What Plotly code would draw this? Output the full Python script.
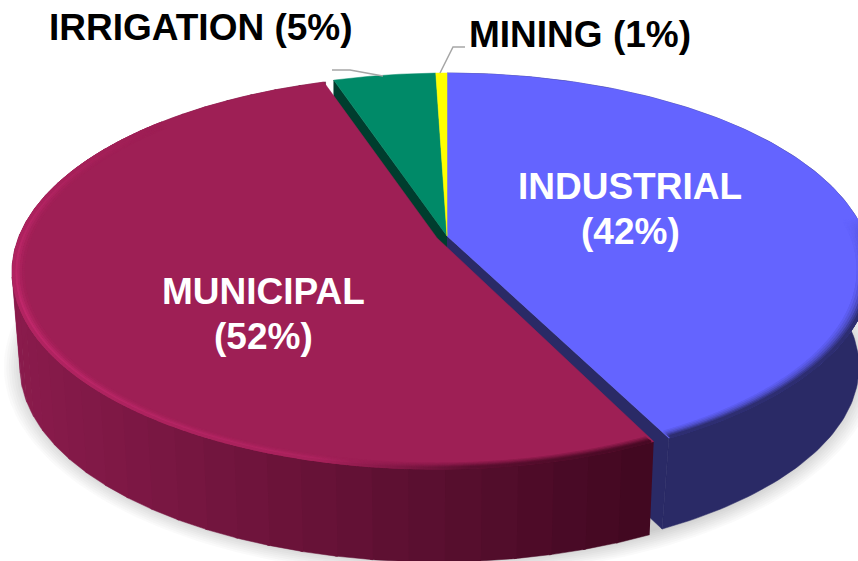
import numpy as np
import plotly.graph_objects as go

# ---- data ----
categories = ["INDUSTRIAL", "MUNICIPAL", "IRRIGATION", "MINING"]
label_percent = [42, 52, 5, 1]          # as printed on the chart
slice_share = [42.8, 52.1, 4.6, 0.5]    # sweep of each slice

# ---- style ----
W, H = 858, 561
TOP = {"INDUSTRIAL": "#6464FF", "MUNICIPAL": "#9E1F55", "IRRIGATION": "#008A68", "MINING": "#FFFF00"}
SIDE = {"INDUSTRIAL": "#2A2A66", "IRRIGATION": "#003D2E", "MINING": "#666600"}
MUNI_SIDE_L, MUNI_SIDE_R = (0x8A, 0x1B, 0x4C), (0x40, 0x08, 0x20)
MUNI_HI = (0xC4, 0x2A, 0x6E)
CENTRE_X = {"INDUSTRIAL": 447, "MUNICIPAL": 437, "IRRIGATION": 447, "MINING": 447}
CENTRE_Y = {"INDUSTRIAL": 270, "MUNICIPAL": 272, "IRRIGATION": 270, "MINING": 270}
RX, RY = 425, 197
BOT_RX = {"INDUSTRIAL": 412, "MUNICIPAL": 417, "IRRIGATION": 412, "MINING": 412}
BOT_RY = {"INDUSTRIAL": 190, "MUNICIPAL": 195, "IRRIGATION": 190, "MINING": 190}
BOT_CY = 367
TILT = -0.173   # perspective: where the pie's centre falls inside the ellipse
BLUE_GAP = 0.7  # degrees of the cut between the blue and crimson slices


def disc(theta):
    """Perspective position on the unit disc for a clockwise angle from 12 o'clock (deg)."""
    t = np.radians(theta)
    x, y = np.sin(t), -np.cos(t)
    d = 1 + TILT * y
    return x * np.sqrt(1 - TILT ** 2) / d, (y + TILT) / d


def rim(name, theta, r=1.0):
    x, y = disc(theta)
    return CENTRE_X[name] + RX * r * x, CENTRE_Y[name] + RY * r * y


def floor(name, theta):
    x, y = disc(theta)
    return CENTRE_X[name] + BOT_RX[name] * x, BOT_CY + BOT_RY[name] * y


def apex(name):
    return CENTRE_X[name], CENTRE_Y[name] + RY * TILT


def mix(a, b, k):
    k = np.clip(k, 0, 1)
    return tuple(a[i] + (b[i] - a[i]) * k for i in range(3))


def rgb(c):
    return "rgb(%d,%d,%d)" % tuple(int(round(v)) for v in c)


def hex2(c):
    return tuple(int(c[i:i + 2], 16) for i in (1, 3, 5))


edges = np.cumsum([0] + slice_share) * 3.6
span = {n: (edges[i], edges[i + 1]) for i, n in enumerate(categories)}
span["INDUSTRIAL"] = (span["INDUSTRIAL"][0], span["INDUSTRIAL"][1] - BLUE_GAP)

fig = go.Figure()


def poly(xs, ys, color):
    fig.add_trace(go.Scatter(x=list(xs), y=list(ys), mode="lines", fill="toself", fillcolor=color,
                             line=dict(width=0.5, color=color), hoverinfo="skip", showlegend=False))


# soft shadow under the pie
t_all = np.linspace(0, 360, 181)
for grow in np.linspace(24, 2, 10):
    px = 440 + (412 + grow) * np.sin(np.radians(t_all))
    py = BOT_CY + (190 + grow * 0.8) * -np.cos(np.radians(t_all))
    poly(px, py, "rgba(0,0,0,0.018)")

# outer wall and cut walls of the far slices
a0, a1 = span["INDUSTRIAL"]
t = np.linspace(a0, a1, 160)
tx, ty = rim("INDUSTRIAL", t)
bx, by = floor("INDUSTRIAL", t)
poly(np.r_[tx, bx[::-1]], np.r_[ty, by[::-1]], SIDE["INDUSTRIAL"])

ax, ay = apex("INDUSTRIAL")
ex, ey = rim("INDUSTRIAL", a1)
fx, fy = floor("INDUSTRIAL", a1)
poly([ax, ex, fx, ax], [ay, ey, fy, ay + 92], SIDE["INDUSTRIAL"])

ax, ay = apex("IRRIGATION")
ex, ey = rim("IRRIGATION", span["IRRIGATION"][0])
poly([ax, ex, ex, ax], [ay, ey, ey + 92, ay + 92], SIDE["IRRIGATION"])

# top faces of the far slices
for n in ["INDUSTRIAL", "IRRIGATION", "MINING"]:
    a0, a1 = span[n]
    t = np.linspace(a0, a1, 160)
    x, y = rim(n, t)
    ax, ay = apex(n)
    poly(np.r_[ax, x, ax], np.r_[ay, y, ay], TOP[n])

# blurred rim of the blue slice
a0, a1 = span["INDUSTRIAL"]
t = np.linspace(a0 + 85, a1 - 0.4, 420)
strength = np.clip((t - (a0 + 85)) / 20, 0, 1)
for r, w in [(0.968, 0.1), (0.974, 0.22), (0.98, 0.38), (0.986, 0.58), (0.991, 0.76), (0.996, 0.92)]:
    x, y = rim("INDUSTRIAL", t, r)
    cols = [rgb(mix(hex2(TOP["INDUSTRIAL"]), hex2(SIDE["INDUSTRIAL"]), w * s)) for s in strength]
    fig.add_trace(go.Scatter(x=x, y=y, mode="markers", marker=dict(size=3.5, color=cols, line=dict(width=0)),
                             hoverinfo="skip", showlegend=False))

# municipal outer wall, shaded from left to right
a0, a1 = span["MUNICIPAL"]
steps = np.linspace(a0, a1, 46)
for s0, s1 in zip(steps[:-1], steps[1:]):
    t = np.linspace(s0, s1 + 0.3, 8)
    tx, ty = rim("MUNICIPAL", t)
    bx, by = floor("MUNICIPAL", t)
    k = (tx.mean() - 12) / (652 - 12)
    poly(np.r_[tx, bx[::-1]], np.r_[ty, by[::-1]], rgb(mix(MUNI_SIDE_L, MUNI_SIDE_R, k)))

# municipal top face
t = np.linspace(a0, a1, 300)
x, y = rim("MUNICIPAL", t)
ax, ay = apex("MUNICIPAL")
poly(np.r_[ax, x, ax], np.r_[ay, y, ay], TOP["MUNICIPAL"])

# municipal rim: bright on the left, falling into shadow on the right
t = np.linspace(a0 + 0.4, a0 + 158, 800)
hi = np.interp(t, [a0, a0 + 14, a0 + 45, a0 + 95, a0 + 126, a0 + 156],
               [0.0, 0.0, 0.5, 0.9, 0.55, 0.0])
dark = np.interp(t, [a0, a0 + 22, a0 + 40, a1], [1.0, 1.0, 0.0, 0.0])
top_c = hex2(TOP["MUNICIPAL"])
for r, w_hi, w_dark in [(0.974, 0.15, 0.2), (0.98, 0.38, 0.4), (0.986, 0.7, 0.62), (0.991, 1.0, 0.8), (0.996, 0.6, 0.92)]:
    x, y = rim("MUNICIPAL", t, r)
    cols = []
    for h, d, xi in zip(hi, dark, x):
        k = (xi - 12) / (652 - 12)
        c = mix(top_c, MUNI_HI, h * w_hi)
        c = mix(c, mix(MUNI_SIDE_L, MUNI_SIDE_R, k), d * w_dark)
        cols.append(rgb(c))
    fig.add_trace(go.Scatter(x=x, y=y, mode="markers", marker=dict(size=3, color=cols, line=dict(width=0)),
                             hoverinfo="skip", showlegend=False))

# text labels
FONT = "Liberation Sans, Arial, sans-serif"
def label(x, y, text, color):
    fig.add_annotation(x=x, y=y, xref="x", yref="y", text="<b>%s</b>" % text, showarrow=False,
                       xanchor="center", yanchor="middle", font=dict(family=FONT, size=37, color=color))

pct = ["(%d%%)" % p for p in label_percent]
label(630, 186, categories[0], "white")
label(630, 231, pct[0], "white")
label(263, 291, categories[1], "white")
label(263, 336, pct[1], "white")
label(201, 27, categories[2] + " " + pct[2], "black")
label(580, 34, categories[3] + " " + pct[3], "black")

shapes = [
    dict(type="path", path="M 332 70 L 350 70 L 383 76", line=dict(color="#A6A6A6", width=1.5)),
    dict(type="path", path="M 440 73 L 453 47 L 465 47", line=dict(color="#A6A6A6", width=1.5)),
]

fig.update_layout(
    width=W, height=H, margin=dict(l=0, r=0, t=0, b=0),
    paper_bgcolor="white", plot_bgcolor="white", showlegend=False, shapes=shapes,
    xaxis=dict(range=[0, W], visible=False, fixedrange=True),
    yaxis=dict(range=[H, 0], visible=False, fixedrange=True),
)
fig.write_html("out.html", config={"displayModeBar": False},
               post_script="document.body.style.margin='0';document.body.style.overflow='hidden';")
